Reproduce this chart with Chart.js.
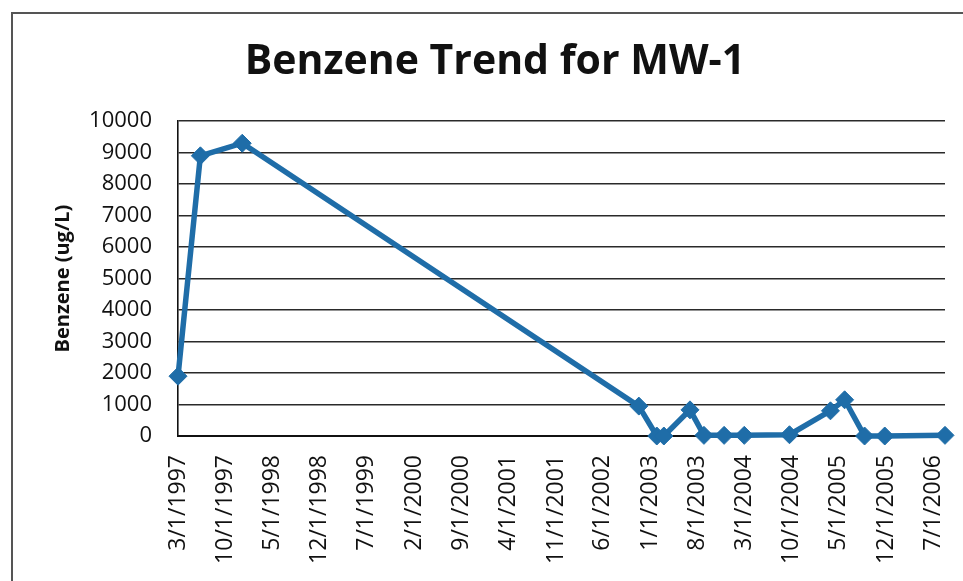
<!DOCTYPE html>
<html lang="en">
  <head>
    <meta charset="UTF-8" />
    <title>Benzene Trend for MW-1</title>
    <script src="https://cdn.jsdelivr.net/npm/chart.js"></script>
    <style>
      * {
        margin: 0;
        padding: 0;
        box-sizing: border-box;
      }

      body {
        background-color: #ffffff;
        width: 963px;
        height: 581px;
        overflow: hidden;
        position: relative;
      }

      /* left and top edge of the chart frame */
      .frame {
        position: absolute;
        left: 11px;
        top: 12px;
        width: 960px;
        height: 580px;
        border-left: 2px solid #555;
        border-top: 2px solid #555;
      }

      #benzene-chart {
        position: absolute;
        left: 0;
        top: 0;
      }
    </style>
  </head>
  <body>
    <div class="frame"></div>
    <canvas id="benzene-chart" width="963" height="581"></canvas>

    <script>
      // sampling dates and benzene results (ug/L)
      var sampleDates = [
        "3/1/1997", "6/10/1997", "12/16/1997", "11/10/2002", "1/30/2003",
        "3/3/2003", "6/29/2003", "8/31/2003", "11/30/2003", "2/29/2004",
        "9/20/2004", "3/24/2005", "5/27/2005", "8/25/2005", "11/24/2005",
        "8/23/2006",
      ];
      var benzene = [
        1900, 8900, 9300, 950, 0, 0, 830, 20, 20, 20, 40, 800, 1150, 0, 0, 20,
      ];

      // date axis labels, every 7 months
      var tickLabels = [
        "3/1/1997", "10/1/1997", "5/1/1998", "12/1/1998", "7/1/1999",
        "2/1/2000", "9/1/2000", "4/1/2001", "11/1/2001", "6/1/2002",
        "1/1/2003", "8/1/2003", "3/1/2004", "10/1/2004", "5/1/2005",
        "12/1/2005", "7/1/2006",
      ];

      var yTicks = [0, 1000, 2000, 3000, 4000, 5000, 6000, 7000, 8000, 9000, 10000];

      function toTime(str) {
        var p = str.split("/");
        return Date.UTC(+p[2], +p[0] - 1, +p[1]);
      }

      var points = sampleDates.map(function (d, i) {
        return { x: toTime(d), y: benzene[i] };
      });

      var blue = "#1f6da8";
      var fontFamily = "'Open Sans', Arial, sans-serif";

      var ctx = document.getElementById("benzene-chart").getContext("2d");
      var benzeneChart = new Chart(ctx, {
        type: "line",
        data: {
          datasets: [
            {
              label: "Benzene",
              data: points,
              borderColor: blue,
              backgroundColor: blue,
              borderWidth: 5.5,
              tension: 0,
              pointStyle: "rectRot",
              pointRadius: 9,
              pointBorderWidth: 1,
              pointBackgroundColor: blue,
              pointBorderColor: blue,
              clip: false,
            },
          ],
        },
        options: {
          responsive: false,
          animation: false,
          layout: {
            padding: { left: 45, right: 18, top: 0, bottom: 0 },
          },
          plugins: {
            legend: { display: false },
            tooltip: { enabled: false },
            title: {
              display: true,
              text: "Benzene Trend for MW-1",
              color: "#111",
              font: { family: fontFamily, size: 41, weight: "bold", lineHeight: 1.2 },
              padding: { top: 38, bottom: 34 },
            },
          },
          scales: {
            x: {
              type: "linear",
              min: toTime(sampleDates[0]),
              max: toTime(sampleDates[sampleDates.length - 1]),
              afterBuildTicks: function (scale) {
                scale.ticks = tickLabels.map(function (l) {
                  return { value: toTime(l) };
                });
              },
              afterFit: function (scale) {
                scale.height = 145;
                // keep the plot edges where the frame wants them
                scale.paddingLeft = 0;
                scale.paddingRight = 0;
              },
              grid: { display: false, drawTicks: false },
              border: { display: true, color: "#111", width: 2 },
              ticks: {
                autoSkip: false,
                maxRotation: 90,
                minRotation: 90,
                padding: 19,
                color: "#111",
                font: { family: fontFamily, size: 23 },
                callback: function (value, index) {
                  return tickLabels[index];
                },
              },
            },
            y: {
              min: 0,
              max: 10000,
              afterBuildTicks: function (scale) {
                scale.ticks = yTicks.map(function (v) {
                  return { value: v };
                });
              },
              afterFit: function (scale) {
                scale.width = 133;
              },
              grid: { color: "#2a2a2a", lineWidth: 1.6, drawTicks: false },
              border: { display: true, color: "#111", width: 1.6 },
              ticks: {
                padding: 26,
                color: "#111",
                font: { family: fontFamily, size: 22 },
                callback: function (value) {
                  return String(value);
                },
              },
              title: {
                display: true,
                text: "Benzene (ug/L)",
                color: "#111",
                font: { family: fontFamily, size: 20, weight: "bold", lineHeight: 1.2 },
                padding: { top: 6, bottom: 0 },
              },
            },
          },
        },
      });
    </script>
  </body>
</html>
